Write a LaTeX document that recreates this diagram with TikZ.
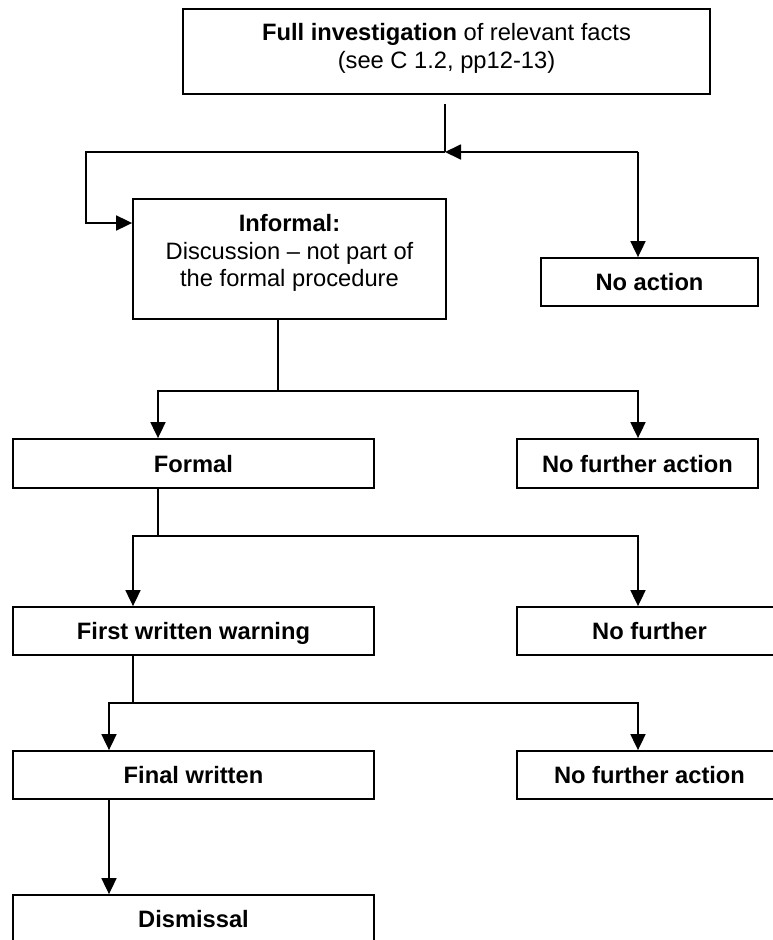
\documentclass[tikz,border=0pt]{standalone}
\usepackage{fontspec}
\setmainfont{Liberation Sans}
\usetikzlibrary{arrows.meta}
\begin{document}
\begin{tikzpicture}[x=1pt,y=-1pt,
  box/.style={draw, line width=1.8pt, inner sep=0pt, align=center,
              font=\fontsize{23.7}{27.5}\selectfont},
  sbox/.style={box, font=\bfseries\fontsize{23.7}{27.5}\selectfont,
               text height=17pt, text depth=0pt},
  conn/.style={line width=1.8pt},
  arr/.style={conn, -{Triangle[length=16pt,width=15pt]}}]
\useasboundingbox (0,0) rectangle (773,940);
\clip (0,0) rectangle (773,940);

% boxes
\node[box, minimum width=527pt, minimum height=85pt] (top) at (446.5,51.5)
  {\textbf{Full investigation} of relevant facts\\(see C 1.2, pp12-13)\rule[-11pt]{0pt}{11pt}};
\node[box, minimum width=313pt, minimum height=120pt] (inf) at (289.5,259)
  {\textbf{Informal:}\\Discussion – not part of\\the formal procedure\rule[-17pt]{0pt}{17pt}};
\node[sbox, minimum width=217pt, minimum height=48pt] (noact) at (649.5,282) {No action};
\node[sbox, minimum width=361pt, minimum height=49pt] (formal) at (193.5,463.5) {Formal};
\node[sbox, minimum width=241pt, minimum height=49pt] (nfa1) at (637.5,463.5) {No further action};
\node[sbox, minimum width=361pt, minimum height=48pt] (fww) at (193.5,631) {First written warning};
\node[sbox, minimum width=265pt, minimum height=48pt] (nf) at (649.5,631) {No further};
\node[sbox, minimum width=361pt, minimum height=48pt] (fin) at (193.5,775) {Final written};
\node[sbox, minimum width=265pt, minimum height=48pt] (nfa2) at (649.5,775) {No further action};
\node[sbox, minimum width=361pt, minimum height=48pt] (dis) at (193.5,919) {Dismissal};

% junction points
\coordinate (j1) at (445,152);
\coordinate (jl) at (86,152);
\coordinate (jr) at (638,152);
\coordinate (ia) at (86,223);
\coordinate (j2) at (278,391);
\coordinate (j2l) at (158,391);
\coordinate (j2r) at (638,391);
\coordinate (j3) at (158,536);
\coordinate (j3l) at (133,536);
\coordinate (j3r) at (638,536);
\coordinate (j4) at (133,703);
\coordinate (j4l) at (109,703);
\coordinate (j4r) at (638,703);

% connectors
\draw[conn] (top.south -| j1) ++(0,9) -- (j1);
\draw[arr] (j1) -- (jl) -- (ia) -- (ia -| inf.west);
\draw[arr] (jr) -- (j1);
\draw[arr] (jr) -- (jr |- noact.north);

\draw[conn] (inf.south -| j2) -- (j2);
\draw[arr] (j2) -- (j2l) -- (j2l |- formal.north);
\draw[arr] (j2) -- (j2r) -- (j2r |- nfa1.north);

\draw[conn] (formal.south -| j3) -- (j3);
\draw[arr] (j3) -- (j3l) -- (j3l |- fww.north);
\draw[arr] (j3) -- (j3r) -- (j3r |- nf.north);

\draw[conn] (fww.south -| j4) -- (j4);
\draw[arr] (j4) -- (j4l) -- (j4l |- fin.north);
\draw[arr] (j4) -- (j4r) -- (j4r |- nfa2.north);

\draw[arr] (fin.south -| j4l) -- (dis.north -| j4l);
\end{tikzpicture}
\end{document}
